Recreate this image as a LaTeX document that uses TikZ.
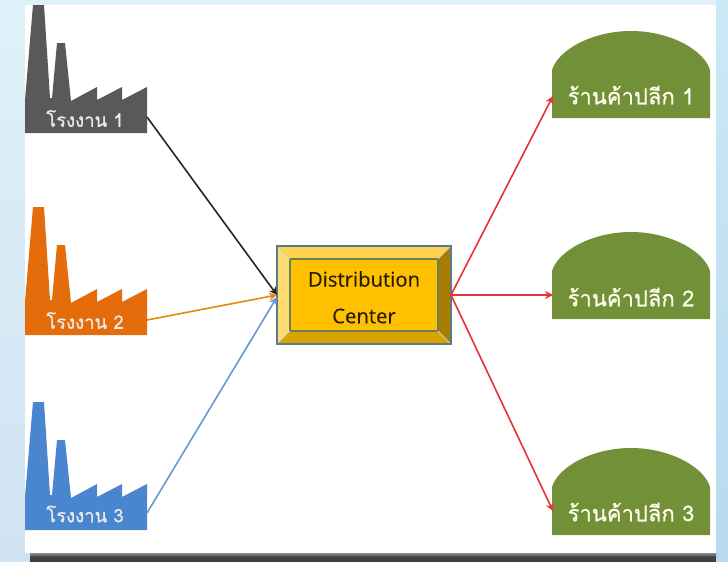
\documentclass[tikz,border=0pt]{standalone}
\usepackage{fontspec}
\newfontfamily\thaifont[Script=Thai,FakeBold=0.5]{Loma}
\setmainfont[FakeBold=0.3]{Open Sans}
\usetikzlibrary{arrows.meta}
\definecolor{bgtop}{HTML}{DFF1F8}
\definecolor{bgbot}{HTML}{CFE3F3}
\definecolor{bgrighttop}{HTML}{CBE9F5}
\definecolor{bgrightbot}{HTML}{B8DAF0}
\definecolor{fgray}{HTML}{595959}
\definecolor{forange}{HTML}{E46C0A}
\definecolor{fblue}{HTML}{4A86D0}
\definecolor{sgreen}{HTML}{719038}
\definecolor{dcfill}{HTML}{FFC000}
\definecolor{dcedge}{HTML}{5B7A8C}
\definecolor{dcinner}{HTML}{6B7F5A}
\definecolor{arrowred}{HTML}{E8303A}
\tikzset{
  x=1pt,y=-1pt,
  factorylabel/.style={text=white!92!black,font=\thaifont\fontsize{18.5}{18.5}\selectfont,inner sep=0pt,anchor=center},
  storelabel/.style={text=white!92!yellow,font=\thaifont\fontsize{22}{22}\selectfont,inner sep=0pt,anchor=center},
  dclabel/.style={text=black!85!dcfill,font=\fontsize{20.3}{20.3}\selectfont,align=center,inner sep=0pt},
  link/.style={line width=1.6pt,-{Stealth[length=8pt,width=8pt]}},
  redlink/.style={link,draw=arrowred},
  factory/.pic={
    \fill[pic actions] (25,133) -- (25,100) -- (33,5) -- (44,5) -- (50,98) -- (52,98) -- (57,43) -- (65,43) -- (71,101)
      -- (97,87) -- (97,100) -- (122,87) -- (122,100) -- (147,87) -- (147,133) -- cycle;
  },
  store/.pic={
    \fill[pic actions] (552,118) -- (552,70) .. controls (558,50) and (592,31) .. (631,31)
      .. controls (670,31) and (704,50) .. (710,70) -- (710,118) -- cycle;
  },
}
\begin{document}
\begin{tikzpicture}
\useasboundingbox (0,0) rectangle (728,562);
% page background and white panel
\shade[top color=bgtop,bottom color=bgbot] (0,0) rectangle (728,562);
\shade[top color=bgrighttop,bottom color=bgrightbot] (716,0) rectangle (728,562);
\fill[white] (25,5) rectangle (716,553);
\shade[top color=white!55!black,bottom color=white!25!black] (30,553) rectangle (716,557);
\fill[white!25!black] (30,557) rectangle (716,562);
% factories
\pic[fill=fgray] at (0,0) {factory};
\pic[fill=forange] at (0,202) {factory};
\pic[fill=fblue] at (0,397) {factory};
% stores
\pic[fill=sgreen] at (0,0) {store};
\pic[fill=sgreen] at (0,201) {store};
\pic[fill=sgreen] at (0,417) {store};
% distribution center (bevel)
\fill[dcfill] (277,246) rectangle (451,344);
\fill[dcfill!70!white] (277,246) -- (451,246) -- (438,259) -- (290,259) -- cycle;
\fill[dcfill!55!white] (277,246) -- (290,259) -- (290,331) -- (277,344) -- cycle;
\fill[dcfill!85!black] (277,344) -- (290,331) -- (438,331) -- (451,344) -- cycle;
\fill[dcfill!65!black] (451,246) -- (438,259) -- (438,331) -- (451,344) -- cycle;
\draw[dcinner,line width=2pt] (290,259) rectangle (438,331);
\draw[white!60!dcinner,line width=.8pt] (277,246) -- (290,259) (451,246) -- (438,259) (277,344) -- (290,331) (451,344) -- (438,331);
\draw[dcedge,line width=2pt] (277,246) rectangle (451,344);
% labels
\node[factorylabel] (f1) at (85,118.5) {โรงงาน 1};
\node[factorylabel] (f2) at (85,320.5) {โรงงาน 2};
\node[factorylabel] (f3) at (85,514) {โรงงาน 3};
\node[storelabel] (s1) at (631,95) {ร้านค้าปลีก 1};
\node[storelabel] (s2) at (631,297) {ร้านค้าปลีก 2};
\node[storelabel] (s3) at (631,512) {ร้านค้าปลีก 3};
\node[dclabel] (dc1) at (364,279) {Distribution};
\node[dclabel] (dc2) at (364,316) {Center};
% ports
\coordinate (f1p) at (147,117);
\coordinate (f2p) at (147,320);
\coordinate (f3p) at (147,513);
\coordinate (dcin1) at (277,295);
\coordinate (dcin2) at (277,295);
\coordinate (dcin3) at (277,297);
\coordinate (dcout) at (451,295);
\coordinate (s1p) at (553,96);
\coordinate (s2p) at (553,295);
\coordinate (s3p) at (553,511);
% connectors
\draw[link,draw=black!85] (f1p) -- (dcin1);
\draw[link,draw=forange!80!yellow] (f2p) -- (dcin2);
\draw[link,draw=fblue!85!white] (f3p) -- (dcin3);
\draw[redlink] (dcout) -- (s1p);
\draw[redlink] (dcout) -- (s2p);
\draw[redlink] (dcout) -- (s3p);
\end{tikzpicture}
\end{document}
